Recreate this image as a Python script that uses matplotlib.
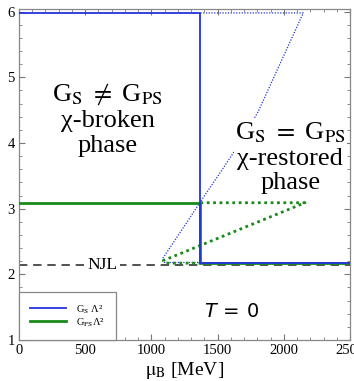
import numpy as np
import matplotlib
matplotlib.use("Agg")
import matplotlib.pyplot as plt
from matplotlib.ticker import MultipleLocator

plt.rcParams['font.family'] = ['Liberation Serif', 'DejaVu Serif']
plt.rcParams['mathtext.fontset'] = 'stix'

# solid lines (stable branch)
blue_x = [0, 1370, 1370, 2500]
blue_y = [5.98, 5.98, 2.18, 2.18]
green_x = [0, 1370, 1370, 2500]
green_y = [3.09, 3.09, 2.17, 2.17]

# dotted lines (metastable / unstable branches)
blue_dot_x = [1370, 2147, 1977, 1807, 1675, 1523, 1372, 1229, 1085, 1100, 1370]
blue_dot_y = [5.98, 5.98, 5.23, 4.48, 4.02, 3.56, 3.11, 2.675, 2.24, 2.18, 2.18]
green_dot_x = [1370, 2160, 1090, 1110, 1370]
green_dot_y = [3.09, 3.09, 2.21, 2.17, 2.17]

njl_value = 2.14

blue = '#2233dd'
green = '#1a8a1a'

fig = plt.figure(figsize=(3.54, 3.81), dpi=100)
ax = fig.add_axes([19 / 354, 1 - 340 / 381, 331 / 354, 331 / 381])

ax.axhline(njl_value, color='#333333', lw=1.2, ls=(0, (5, 3.5)), zorder=1)
ax.plot(blue_dot_x, blue_dot_y, color=blue, lw=0.9, ls=(0, (1, 1.2)), zorder=2)
ax.plot(green_dot_x, green_dot_y, color=green, lw=2.0, ls=(0, (1, 1.3)), zorder=2)
ax.plot(green_x, green_y, color=green, lw=2.0, zorder=3, label=r'G$_{\mathrm{PS}}$Λ²')
ax.plot(blue_x, blue_y, color=blue, lw=1.3, zorder=4, label=r'G$_{\mathrm{S}}$ Λ²')

ax.text(634, njl_value, 'NJL', fontsize=12.5, ha='center', va='center',
        bbox=dict(facecolor='white', edgecolor='none', pad=1.5), zorder=5)

ax.text(668, 4.36, 'G$_{\\mathrm{S}}$ $\\neq$ G$_{\\mathrm{PS}}$\nχ-broken\nphase',
        fontsize=19, ha='center', va='center', linespacing=1.15)
ax.text(2050, 3.78, 'G$_{\\mathrm{S}}$ $=$ G$_{\\mathrm{PS}}$\nχ-restored\nphase',
        fontsize=19, ha='center', va='center', linespacing=1.15,
        bbox=dict(facecolor='white', edgecolor='none', pad=1), zorder=6)
ax.text(1608, 1.43, r'$T\,=\,0$', fontsize=14, ha='center', va='center',
        math_fontfamily='dejavusans')

ax.set_xlim(0, 2500)
ax.set_ylim(1, 6.04)
ax.xaxis.set_major_locator(MultipleLocator(500))
ax.xaxis.set_minor_locator(MultipleLocator(100))
ax.yaxis.set_major_locator(MultipleLocator(1))
ax.yaxis.set_minor_locator(MultipleLocator(0.2))
ax.tick_params(which='both', direction='in', top=True, right=True,
               color='#777777', labelsize=10.5, pad=3)
ax.tick_params(which='major', length=4)
ax.tick_params(which='minor', length=2)
for sp in ax.spines.values():
    sp.set_color('#888888')
    sp.set_linewidth(0.9)

ax.set_xlabel(r'$\mathrm{\mu_B}$ [MeV]', fontsize=14, labelpad=2)

handles, labels = ax.get_legend_handles_labels()
leg = ax.legend(handles[::-1], labels[::-1], loc='lower left', fontsize=7.5,
                borderaxespad=0, fancybox=False, edgecolor='#888888',
                borderpad=1.1, handlelength=3.4, handletextpad=1.0,
                labelspacing=0.05, framealpha=1)
leg.get_frame().set_linewidth(0.9)

fig.savefig('out.png', dpi=100)
